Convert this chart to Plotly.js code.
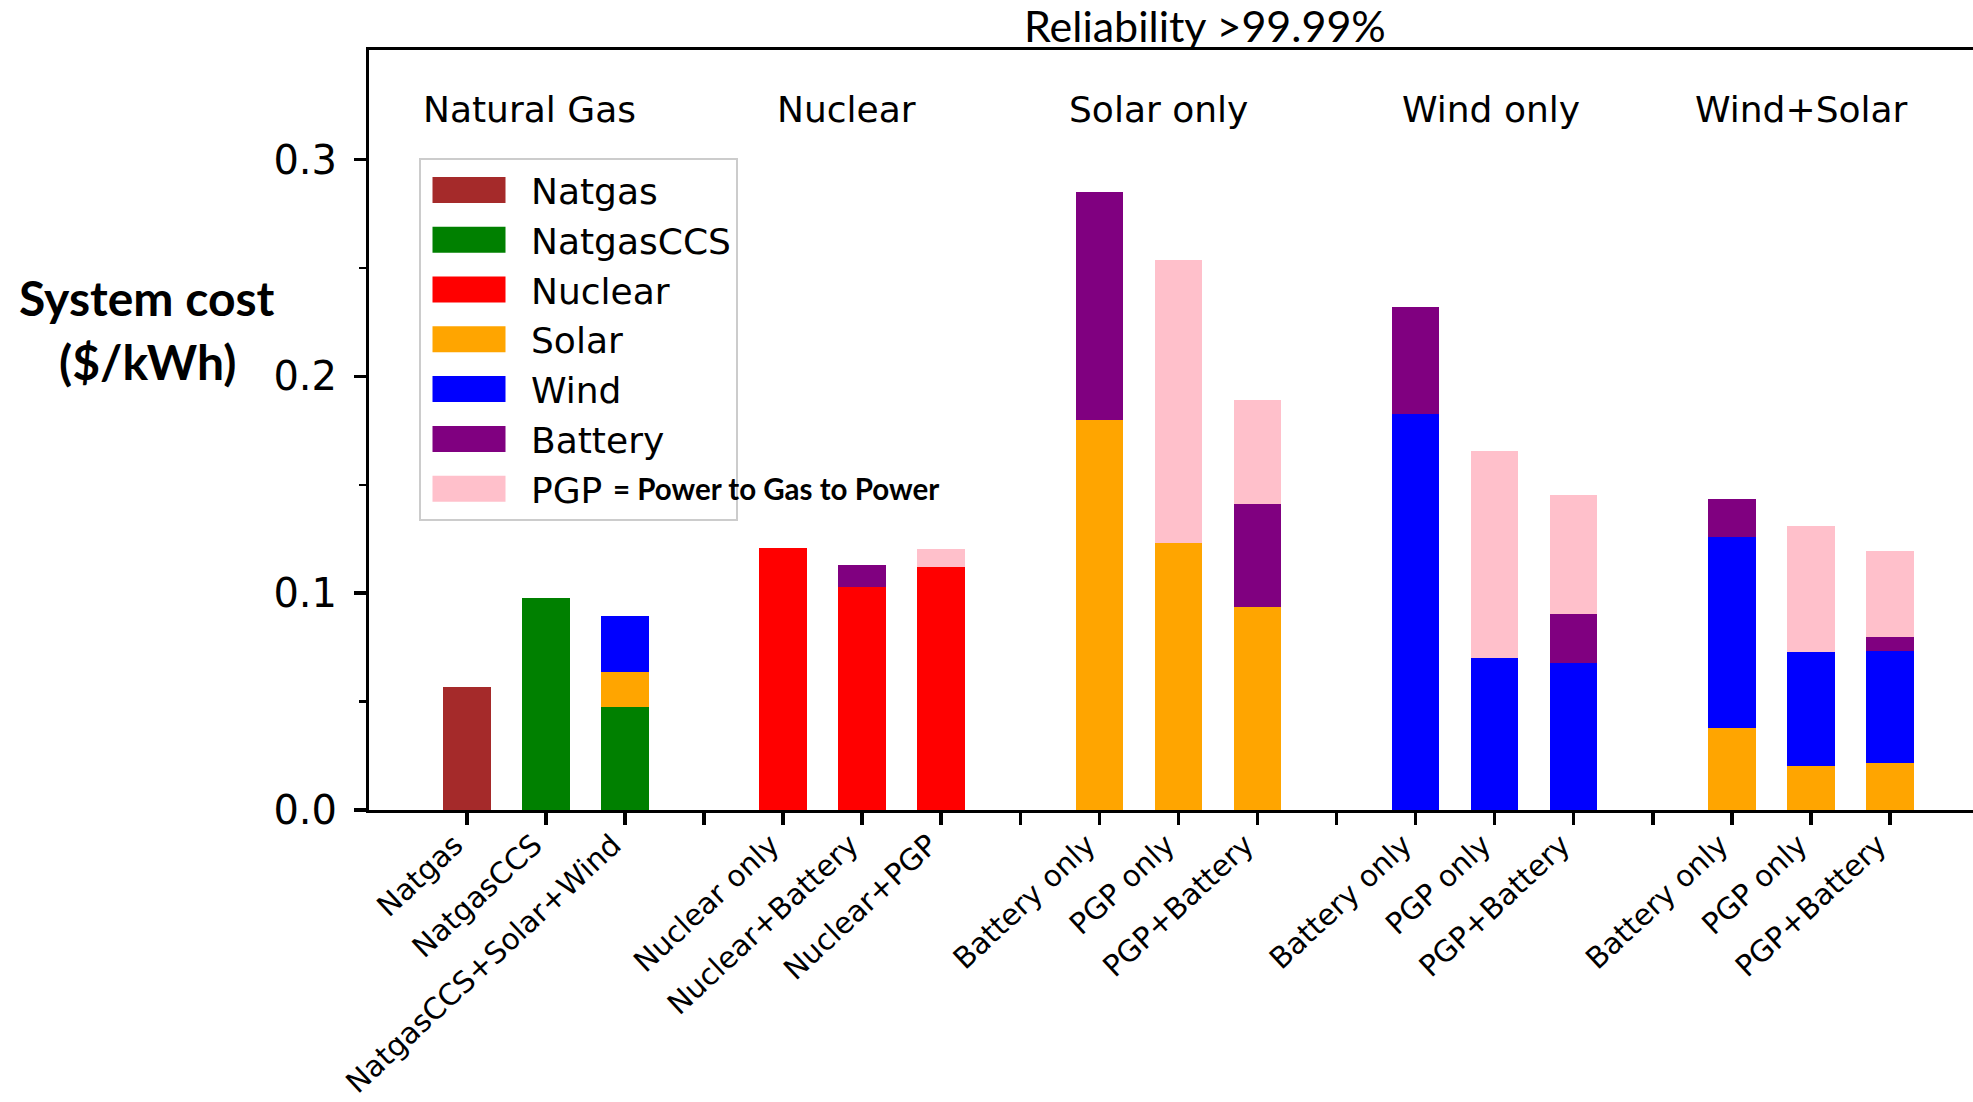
<!DOCTYPE html>
<html>
<head>
<meta charset="utf-8">
<script src="https://cdn.plot.ly/plotly-3.0.1.min.js"></script>
<style>
html, body { margin: 0; padding: 0; background: #ffffff; }
#chart { width: 1973px; height: 1102px; }
</style>
</head>
<body>
<div id="chart"></div>
<script>
// ---- data (blank labels are the gaps between scenario groups) ----
const labels = [
  'Natgas', 'NatgasCCS', 'NatgasCCS+Solar+Wind', '',
  'Nuclear only', 'Nuclear+Battery', 'Nuclear+PGP', '',
  'Battery only', 'PGP only', 'PGP+Battery', '',
  'Battery only', 'PGP only', 'PGP+Battery', '',
  'Battery only', 'PGP only', 'PGP+Battery'
];
const natgas    = [0.0566, null, null, null, null, null, null, null, null, null, null, null, null, null, null, null, null, null, null];
const natgasCCS = [null, 0.0979, 0.0477, null, null, null, null, null, null, null, null, null, null, null, null, null, null, null, null];
const nuclear   = [null, null, null, null, 0.1210, 0.1030, 0.1122, null, null, null, null, null, null, null, null, null, null, null, null];
const solar     = [null, null, 0.0158, null, null, null, null, null, 0.1800, 0.1230, 0.0938, null, null, null, null, null, 0.0380, 0.0202, 0.0215];
const wind      = [null, null, 0.0260, null, null, null, null, null, null, null, null, null, 0.1829, 0.0703, 0.0676, null, 0.0879, 0.0526, 0.0519];
const battery   = [null, null, null, null, null, 0.0101, null, null, 0.1049, null, 0.0475, null, 0.0492, null, 0.0227, null, 0.0175, null, 0.0064];
const pgp       = [null, null, null, null, null, null, 0.0083, null, null, 0.1305, 0.0478, null, null, 0.0952, 0.0552, null, null, 0.0581, 0.0395];

const seriesNames  = ['Natgas', 'NatgasCCS', 'Nuclear', 'Solar', 'Wind', 'Battery', 'PGP'];
const seriesColors = ['#a52a2a', '#008000', '#ff0000', '#ffa500', '#0000ff', '#800080', '#ffc0cb'];
const seriesValues = [natgas, natgasCCS, nuclear, solar, wind, battery, pgp];

const groupNames = ['Natural Gas', 'Nuclear', 'Solar only', 'Wind only', 'Wind+Solar'];
const yTickVals  = [0, 0.1, 0.2, 0.3];
const yTickText  = ['0.0', '0.1', '0.2', '0.3'];
const yMinorVals = [0.05, 0.15, 0.25];

// ---- build ----
const xs = labels.map((_, i) => i);
const data = seriesNames.map((name, k) => ({
  type: 'bar',
  name: name,
  x: xs,
  y: seriesValues[k],
  width: 0.6,
  marker: { color: seriesColors[k], line: { width: 0 } },
  hoverinfo: 'skip'
}));

const groupX = [0.787, 4.80, 8.745, 12.96, 16.88];
const annotations = groupNames.map((g, i) => ({
  text: g, x: groupX[i], xref: 'x', y: 0.922, yref: 'paper',
  xanchor: 'center', yanchor: 'middle', showarrow: false,
  font: { family: 'DejaVu Sans', size: 36, color: '#000000' }
}));
annotations.push({
  text: '<b>System cost</b>', x: -0.1384, xref: 'paper', y: 1 - (297 - 50) / 760, yref: 'paper',
  xanchor: 'center', yanchor: 'middle', showarrow: false,
  font: { family: 'Lato', size: 48, color: '#000000' }
});
annotations.push({
  text: '<b>($/kWh)</b>', x: -0.1384, xref: 'paper', y: 1 - (361 - 50) / 760, yref: 'paper',
  xanchor: 'center', yanchor: 'middle', showarrow: false,
  font: { family: 'Lato', size: 48, color: '#000000' }
});
annotations.push({
  text: '<b>= Power to Gas to Power</b>', x: (611 - 369) / 1604, xref: 'paper', y: 1 - (488 - 50) / 760, yref: 'paper',
  xanchor: 'left', yanchor: 'middle', showarrow: false,
  font: { family: 'Lato', size: 29.5, color: '#000000' }
});

const layout = {
  width: 1973, height: 1102,
  margin: { l: 369, r: 0, t: 50, b: 292, pad: 0 },
  paper_bgcolor: '#ffffff', plot_bgcolor: '#ffffff',
  barmode: 'stack',
  showlegend: true,
  title: {
    text: 'Reliability >99.99%',
    font: { family: 'Lato', size: 43, color: '#000000' },
    x: 0.6107, xref: 'container', xanchor: 'center',
    y: 1 - 27 / 1102, yref: 'container', yanchor: 'middle'
  },
  xaxis: {
    range: [-1.237, 19.05],
    tickmode: 'array', tickvals: xs, ticktext: labels,
    tickangle: -43,
    ticks: 'outside', ticklen: 12, tickwidth: 3.5, tickcolor: '#000000',
    ticklabelshift: -12, ticklabelstandoff: -9,
    showline: true, linewidth: 3, linecolor: '#000000', mirror: true,
    showgrid: false, zeroline: false,
    tickfont: { family: 'DejaVu Sans', size: 29.5, color: '#000000' }
  },
  yaxis: {
    range: [0, 0.3506],
    tickmode: 'array', tickvals: yTickVals, ticktext: yTickText,
    ticks: 'outside', ticklen: 12, tickwidth: 3.5, tickcolor: '#000000',
    ticklabelstandoff: 9,
    minor: { tickmode: 'array', tickvals: yMinorVals, ticks: 'outside', ticklen: 7, tickwidth: 2.5, tickcolor: '#000000', showgrid: false },
    showline: true, linewidth: 3, linecolor: '#000000', mirror: false,
    showgrid: false, zeroline: false,
    tickfont: { family: 'DejaVu Sans', size: 40, color: '#000000' }
  },
  legend: {
    x: (419 - 369) / 1604, y: 1 - (158 - 50) / 760,
    xanchor: 'left', yanchor: 'top',
    bgcolor: '#ffffff', bordercolor: '#cccccc', borderwidth: 2,
    font: { family: 'DejaVu Sans', size: 36, color: '#000000' },
    itemwidth: 100, traceorder: 'normal', tracegroupgap: 0
  },
  annotations: annotations
};

Plotly.newPlot('chart', data, layout, { displayModeBar: false, staticPlot: true }).then(function (gd) {
  gd.querySelectorAll('.legend .legendpoints path').forEach(function (p) {
    p.setAttribute('d', 'M29.5,13H-43.5V-13H29.5Z');
  });
});
</script>
</body>
</html>
